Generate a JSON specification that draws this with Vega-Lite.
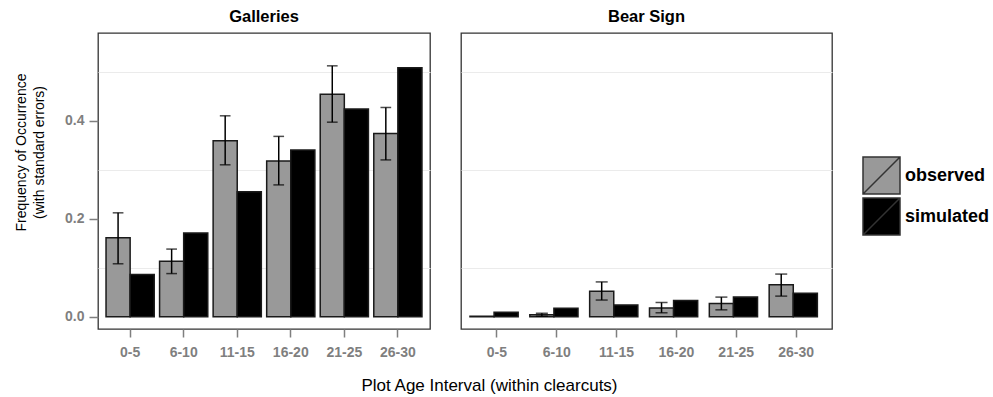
{
  "$schema": "https://vega.github.io/schema/vega-lite/v6.json",
  "padding": {"left": 13, "top": 7, "right": 5, "bottom": 5},
  "bounds": "flush",
  "background": "white",
  "data": {"values": [
    {"panel": "Galleries", "interval": "0-5", "type": "observed", "value": 0.161, "lo": 0.108, "hi": 0.212},
    {"panel": "Galleries", "interval": "0-5", "type": "simulated", "value": 0.086},
    {"panel": "Galleries", "interval": "6-10", "type": "observed", "value": 0.113, "lo": 0.088, "hi": 0.138},
    {"panel": "Galleries", "interval": "6-10", "type": "simulated", "value": 0.171},
    {"panel": "Galleries", "interval": "11-15", "type": "observed", "value": 0.359, "lo": 0.31, "hi": 0.41},
    {"panel": "Galleries", "interval": "11-15", "type": "simulated", "value": 0.255},
    {"panel": "Galleries", "interval": "16-20", "type": "observed", "value": 0.318, "lo": 0.269, "hi": 0.368},
    {"panel": "Galleries", "interval": "16-20", "type": "simulated", "value": 0.34},
    {"panel": "Galleries", "interval": "21-25", "type": "observed", "value": 0.454, "lo": 0.397, "hi": 0.512},
    {"panel": "Galleries", "interval": "21-25", "type": "simulated", "value": 0.424},
    {"panel": "Galleries", "interval": "26-30", "type": "observed", "value": 0.374, "lo": 0.32, "hi": 0.427},
    {"panel": "Galleries", "interval": "26-30", "type": "simulated", "value": 0.508},
    {"panel": "Bear Sign", "interval": "0-5", "type": "observed", "value": 0.001},
    {"panel": "Bear Sign", "interval": "0-5", "type": "simulated", "value": 0.009},
    {"panel": "Bear Sign", "interval": "6-10", "type": "observed", "value": 0.004, "lo": 0.001, "hi": 0.007},
    {"panel": "Bear Sign", "interval": "6-10", "type": "simulated", "value": 0.017},
    {"panel": "Bear Sign", "interval": "11-15", "type": "observed", "value": 0.052, "lo": 0.034, "hi": 0.071},
    {"panel": "Bear Sign", "interval": "11-15", "type": "simulated", "value": 0.024},
    {"panel": "Bear Sign", "interval": "16-20", "type": "observed", "value": 0.018, "lo": 0.008, "hi": 0.029},
    {"panel": "Bear Sign", "interval": "16-20", "type": "simulated", "value": 0.033},
    {"panel": "Bear Sign", "interval": "21-25", "type": "observed", "value": 0.027, "lo": 0.014, "hi": 0.04},
    {"panel": "Bear Sign", "interval": "21-25", "type": "simulated", "value": 0.04},
    {"panel": "Bear Sign", "interval": "26-30", "type": "observed", "value": 0.065, "lo": 0.042, "hi": 0.087},
    {"panel": "Bear Sign", "interval": "26-30", "type": "simulated", "value": 0.048}
  ]},
  "spacing": 31,
  "hconcat": [
    {
      "title": "Galleries",
      "width": 332,
      "height": 296,
      "transform": [{"filter": "datum.panel == 'Galleries'"}],
      "encoding": {
        "x": {"field": "interval", "type": "nominal", "sort": ["0-5", "6-10", "11-15", "16-20", "21-25", "26-30"],
              "scale": {"paddingInner": 0.1, "paddingOuter": 0.15},
              "axis": {"title": "Plot Age Interval (within clearcuts)", "titleX": 391, "titleAlign": "center", "titleBaseline": "alphabetic", "titleY": 61}},
        "xOffset": {"field": "type", "type": "nominal", "scale": {"domain": ["observed", "simulated"], "paddingInner": 0, "paddingOuter": 0}}
      },
      "layer": [
        {
          "mark": {"type": "bar", "stroke": "#1a1a1a", "strokeWidth": 1.5},
          "encoding": {
            "y": {"field": "value", "type": "quantitative", "scale": {"domain": [-0.0251, 0.579], "nice": false, "zero": false},
                  "axis": {"title": ["Frequency of Occurrence", "(with standard errors)"], "values": [0, 0.1, 0.2, 0.3, 0.4, 0.5],
                           "labelExpr": "round(datum.value*10) % 2 == 0 ? format(datum.value, '.1f') : ''",
                           "tickOpacity": {"condition": {"test": "round(datum.value*10) % 2 == 0", "value": 1}, "value": 0},
                           "gridOpacity": {"condition": {"test": "round(datum.value*10) % 2 == 0", "value": 0}, "value": 1},
                           "tickSize": 9,
                           "titleFontSize": 14, "titleLineHeight": 18, "titlePadding": 18, "titleY": 119}},
            "y2": {"datum": 0},
            "fill": {"field": "type", "type": "nominal", "scale": {"domain": ["observed", "simulated"], "range": ["#999999", "#000000"]},
                     "legend": {"title": null, "orient": "none", "legendX": 764, "legendY": 123}}
          }
        },
        {
          "transform": [{"filter": "datum.type == 'observed'"}],
          "mark": {"type": "rule", "color": "#000000", "strokeWidth": 1.5},
          "encoding": {"y": {"field": "lo", "type": "quantitative"}, "y2": {"field": "hi"}}
        },
        {
          "transform": [{"filter": "datum.type == 'observed'"}],
          "mark": {"type": "tick", "color": "#000000", "thickness": 1.5, "size": 10.7, "orient": "horizontal"},
          "encoding": {"y": {"field": "hi", "type": "quantitative"}}
        },
        {
          "transform": [{"filter": "datum.type == 'observed'"}],
          "mark": {"type": "tick", "color": "#000000", "thickness": 1.5, "size": 10.7, "orient": "horizontal"},
          "encoding": {"y": {"field": "lo", "type": "quantitative"}}
        }
      ]
    },
    {
      "title": "Bear Sign",
      "width": 371,
      "height": 296,
      "transform": [{"filter": "datum.panel == 'Bear Sign'"}],
      "encoding": {
        "x": {"field": "interval", "type": "nominal", "sort": ["0-5", "6-10", "11-15", "16-20", "21-25", "26-30"],
              "scale": {"paddingInner": 0.1, "paddingOuter": 0.15},
              "axis": {"title": null}},
        "xOffset": {"field": "type", "type": "nominal", "scale": {"domain": ["observed", "simulated"], "paddingInner": 0, "paddingOuter": 0}}
      },
      "layer": [
        {
          "mark": {"type": "bar", "stroke": "#1a1a1a", "strokeWidth": 1.5},
          "encoding": {
            "y": {"field": "value", "type": "quantitative", "scale": {"domain": [-0.0251, 0.579], "nice": false, "zero": false},
                  "axis": {"title": null, "values": [0, 0.1, 0.2, 0.3, 0.4, 0.5], "labels": false, "ticks": false, "domain": false,
                           "gridOpacity": {"condition": {"test": "round(datum.value*10) % 2 == 0", "value": 0}, "value": 1},
                           "minExtent": 0, "maxExtent": 0}},
            "y2": {"datum": 0},
            "fill": {"field": "type", "type": "nominal", "scale": {"domain": ["observed", "simulated"], "range": ["#999999", "#000000"]}}
          }
        },
        {
          "transform": [{"filter": "datum.type == 'observed'"}],
          "mark": {"type": "rule", "color": "#000000", "strokeWidth": 1.5},
          "encoding": {"y": {"field": "lo", "type": "quantitative"}, "y2": {"field": "hi"}}
        },
        {
          "transform": [{"filter": "datum.type == 'observed'"}],
          "mark": {"type": "tick", "color": "#000000", "thickness": 1.5, "size": 12, "orient": "horizontal"},
          "encoding": {"y": {"field": "hi", "type": "quantitative"}}
        },
        {
          "transform": [{"filter": "datum.type == 'observed'"}],
          "mark": {"type": "tick", "color": "#000000", "thickness": 1.5, "size": 12, "orient": "horizontal"},
          "encoding": {"y": {"field": "lo", "type": "quantitative"}}
        }
      ]
    }
  ],
  "config": {
    "font": "Liberation Sans",
    "view": {"stroke": "#333333", "strokeWidth": 1.3},
    "title": {"fontSize": 16.5, "fontWeight": "bold", "color": "#000000", "offset": 8, "anchor": "middle"},
    "axis": {"gridColor": "#ebebeb", "gridWidth": 1, "labelColor": "#7f7f7f", "labelFontWeight": "bold", "labelFontSize": 14,
             "tickColor": "#7f7f7f", "tickWidth": 1.5, "tickSize": 8, "domain": false,
             "titleFontWeight": "normal", "titleColor": "#000000", "titleFontSize": 17},
    "axisX": {"grid": false, "labelAngle": 0, "labelPadding": 8},
    "axisY": {"labelPadding": 5},
    "legend": {"symbolType": "M-1,-1H1V1H-1Z M-1,1L1,-1", "symbolSize": 1369, "symbolStrokeColor": "#333333", "symbolStrokeWidth": 1.5,
               "symbolOpacity": 1, "labelFontSize": 18, "labelFontWeight": "bold", "labelColor": "#000000", "rowPadding": -9, "labelOffset": 4}
  }
}
